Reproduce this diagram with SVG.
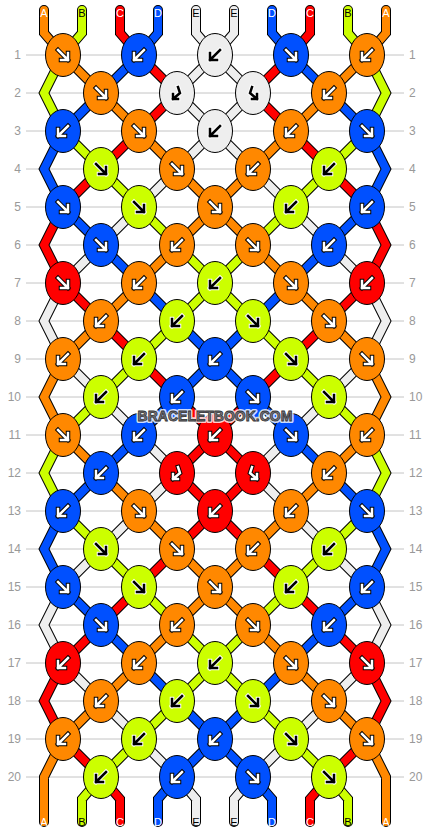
<svg xmlns="http://www.w3.org/2000/svg" width="430" height="832" viewBox="0 0 430 832">
<style>
.grid{stroke:#c4c4c4;stroke-width:1}
.num{font-family:"Liberation Sans",Arial,sans-serif;font-size:12px;fill:#999}
.kA,.kB,.kC,.kD,.kE{stroke:#000;stroke-width:1}
.kA{fill:#ff8800}.kB{fill:#ccff00}.kC{fill:#ff0000}.kD{fill:#0050ff}.kE{fill:#eeeeee}
.lbl{font-family:"Liberation Sans",Arial,sans-serif;font-size:11px;text-anchor:middle}
.wt{fill:#fff}.bt{fill:#000}
</style>
<defs>
<path id="sA" d="M44,10L44,33L63,55M386,10L386,33L367,55M63,55L101,93M367,55L329,93M101,93L139,131M329,93L291,131M139,131L177,169M291,131L253,169M177,169L215,207M253,169L215,207M215,207L177,245M215,207L253,245M177,245L139,283M253,245L291,283M139,283L101,321M291,283L329,321M101,321L63,359M329,321L367,359M63,359L44,397L63,435M367,359L386,397L367,435M63,435L101,473M367,435L329,473M101,473L139,511M329,473L291,511M139,511L177,549M291,511L253,549M177,549L215,587M253,549L215,587M215,587L177,625M215,587L253,625M177,625L139,663M253,625L291,663M139,663L101,701M291,663L329,701M101,701L63,739M329,701L367,739M63,739L44,777L44,822M367,739L386,777L386,822"/>
<path id="sB" d="M82,10L82,33L63,55M348,10L348,33L367,55M63,55L44,93L63,131M367,55L386,93L367,131M63,131L101,169M367,131L329,169M101,169L139,207M329,169L291,207M139,207L177,245M291,207L253,245M177,245L215,283M253,245L215,283M215,283L177,321M215,283L253,321M177,321L139,359M253,321L291,359M139,359L101,397M291,359L329,397M101,397L63,435M329,397L367,435M63,435L44,473L63,511M367,435L386,473L367,511M63,511L101,549M367,511L329,549M101,549L139,587M329,549L291,587M139,587L177,625M291,587L253,625M177,625L215,663M253,625L215,663M215,663L177,701M215,663L253,701M177,701L139,739M253,701L291,739M139,739L101,777M291,739L329,777M101,777L82,799L82,822M329,777L348,799L348,822"/>
<path id="sC" d="M120,10L120,33L139,55M310,10L310,33L291,55M139,55L177,93M291,55L253,93M177,93L139,131M253,93L291,131M139,131L101,169M291,131L329,169M101,169L63,207M329,169L367,207M63,207L44,245L63,283M367,207L386,245L367,283M63,283L101,321M367,283L329,321M101,321L139,359M329,321L291,359M139,359L177,397M291,359L253,397M177,397L215,435M253,397L215,435M215,435L177,473M215,435L253,473M177,473L215,511M253,473L215,511M215,511L177,549M215,511L253,549M177,549L139,587M253,549L291,587M139,587L101,625M291,587L329,625M101,625L63,663M329,625L367,663M63,663L44,701L63,739M367,663L386,701L367,739M63,739L101,777M367,739L329,777M101,777L120,799L120,822M329,777L310,799L310,822"/>
<path id="sD" d="M158,10L158,33L139,55M272,10L272,33L291,55M139,55L101,93M291,55L329,93M101,93L63,131M329,93L367,131M63,131L44,169L63,207M367,131L386,169L367,207M63,207L101,245M367,207L329,245M101,245L139,283M329,245L291,283M139,283L177,321M291,283L253,321M177,321L215,359M253,321L215,359M215,359L177,397M215,359L253,397M177,397L139,435M253,397L291,435M139,435L101,473M291,435L329,473M101,473L63,511M329,473L367,511M63,511L44,549L63,587M367,511L386,549L367,587M63,587L101,625M367,587L329,625M101,625L139,663M329,625L291,663M139,663L177,701M291,663L253,701M177,701L215,739M253,701L215,739M215,739L177,777M215,739L253,777M177,777L158,799L158,822M253,777L272,799L272,822"/>
<path id="sE" d="M196,10L196,33L215,55M234,10L234,33L215,55M215,55L177,93M215,55L253,93M177,93L215,131M253,93L215,131M215,131L177,169M215,131L253,169M177,169L139,207M253,169L291,207M139,207L101,245M291,207L329,245M101,245L63,283M329,245L367,283M63,283L44,321L63,359M367,283L386,321L367,359M63,359L101,397M367,359L329,397M101,397L139,435M329,397L291,435M139,435L177,473M291,435L253,473M177,473L139,511M253,473L291,511M139,511L101,549M291,511L329,549M101,549L63,587M329,549L367,587M63,587L44,625L63,663M367,587L386,625L367,663M63,663L101,701M367,663L329,701M101,701L139,739M329,701L291,739M139,739L177,777M291,739L253,777M177,777L196,799L196,822M253,777L234,799L234,822"/>
<path id="aR" d="M-5,-5L5,5M5,-2L5,5L-2,5"/>
<path id="aL" d="M5,-5L-5,5M-5,-2L-5,5L2,5"/>
<path id="hL" d="M1,-6L3,0L-4,6M-4,1L-4,6L1,6"/>
<path id="hR" d="M-1,-6L-3,0L4,6M4,1L4,6L-1,6"/>
<g id="wR" fill="none" stroke-linecap="square"><use href="#aR" stroke="#000" stroke-width="4.5"/><use href="#aR" stroke="#fff" stroke-width="2.5"/></g>
<g id="wL" fill="none" stroke-linecap="square"><use href="#aL" stroke="#000" stroke-width="4.5"/><use href="#aL" stroke="#fff" stroke-width="2.5"/></g>
<g id="bR" fill="none" stroke-linecap="square"><use href="#aR" stroke="#fff" stroke-width="4.5"/><use href="#aR" stroke="#000" stroke-width="2.5"/></g>
<g id="bL" fill="none" stroke-linecap="square"><use href="#aL" stroke="#fff" stroke-width="4.5"/><use href="#aL" stroke="#000" stroke-width="2.5"/></g>
<g id="bhL" fill="none" stroke-linecap="square"><use href="#hL" stroke="#fff" stroke-width="4.5"/><use href="#hL" stroke="#000" stroke-width="2.5"/></g>
<g id="bhR" fill="none" stroke-linecap="square"><use href="#hR" stroke="#fff" stroke-width="4.5"/><use href="#hR" stroke="#000" stroke-width="2.5"/></g>
<g id="whL" fill="none" stroke-linecap="square"><use href="#hL" stroke="#000" stroke-width="4.5"/><use href="#hL" stroke="#fff" stroke-width="2.5"/></g>
<g id="whR" fill="none" stroke-linecap="square"><use href="#hR" stroke="#000" stroke-width="4.5"/><use href="#hR" stroke="#fff" stroke-width="2.5"/></g>
<ellipse id="kn" rx="17.5" ry="21.5"/>
</defs>
<rect width="430" height="832" fill="#fff"/>
<g id="grid" class="grid">
<line x1="26" y1="55" x2="404" y2="55"/><line x1="26" y1="93" x2="404" y2="93"/><line x1="26" y1="131" x2="404" y2="131"/><line x1="26" y1="169" x2="404" y2="169"/><line x1="26" y1="207" x2="404" y2="207"/><line x1="26" y1="245" x2="404" y2="245"/><line x1="26" y1="283" x2="404" y2="283"/><line x1="26" y1="321" x2="404" y2="321"/><line x1="26" y1="359" x2="404" y2="359"/><line x1="26" y1="397" x2="404" y2="397"/><line x1="26" y1="435" x2="404" y2="435"/><line x1="26" y1="473" x2="404" y2="473"/><line x1="26" y1="511" x2="404" y2="511"/><line x1="26" y1="549" x2="404" y2="549"/><line x1="26" y1="587" x2="404" y2="587"/><line x1="26" y1="625" x2="404" y2="625"/><line x1="26" y1="663" x2="404" y2="663"/><line x1="26" y1="701" x2="404" y2="701"/><line x1="26" y1="739" x2="404" y2="739"/><line x1="26" y1="777" x2="404" y2="777"/>
</g>
<g id="rownums" class="num">
<g text-anchor="end">
<text x="21" y="59">1</text><text x="21" y="97">2</text><text x="21" y="135">3</text><text x="21" y="173">4</text><text x="21" y="211">5</text><text x="21" y="249">6</text><text x="21" y="287">7</text><text x="21" y="325">8</text><text x="21" y="363">9</text><text x="21" y="401">10</text><text x="21" y="439">11</text><text x="21" y="477">12</text><text x="21" y="515">13</text><text x="21" y="553">14</text><text x="21" y="591">15</text><text x="21" y="629">16</text><text x="21" y="667">17</text><text x="21" y="705">18</text><text x="21" y="743">19</text><text x="21" y="781">20</text>
</g>
<g text-anchor="start">
<text x="409" y="59">1</text><text x="409" y="97">2</text><text x="409" y="135">3</text><text x="409" y="173">4</text><text x="409" y="211">5</text><text x="409" y="249">6</text><text x="409" y="287">7</text><text x="409" y="325">8</text><text x="409" y="363">9</text><text x="409" y="401">10</text><text x="409" y="439">11</text><text x="409" y="477">12</text><text x="409" y="515">13</text><text x="409" y="553">14</text><text x="409" y="591">15</text><text x="409" y="629">16</text><text x="409" y="667">17</text><text x="409" y="705">18</text><text x="409" y="743">19</text><text x="409" y="781">20</text>
</g>
</g>
<g id="connectors" fill="none" stroke-linejoin="miter" stroke-linecap="round">
<g stroke="#000" stroke-width="10"><use href="#sA"/><use href="#sB"/><use href="#sC"/><use href="#sD"/><use href="#sE"/></g>
<g stroke-width="8"><use href="#sA" stroke="#ff8800"/><use href="#sB" stroke="#ccff00"/><use href="#sC" stroke="#ff0000"/><use href="#sD" stroke="#0050ff"/><use href="#sE" stroke="#eeeeee"/></g>
</g>
<g id="knots">
<g id="k1-1" transform="translate(63,55)"><use href="#kn" class="kA"/><use href="#wR"/></g>
<g id="k1-2" transform="translate(139,55)"><use href="#kn" class="kD"/><use href="#wL"/></g>
<g id="k1-3" transform="translate(215,55)"><use href="#kn" class="kE"/><use href="#bL"/></g>
<g id="k1-4" transform="translate(291,55)"><use href="#kn" class="kD"/><use href="#wR"/></g>
<g id="k1-5" transform="translate(367,55)"><use href="#kn" class="kA"/><use href="#wL"/></g>
<g id="k2-1" transform="translate(101,93)"><use href="#kn" class="kA"/><use href="#wR"/></g>
<g id="k2-2" transform="translate(177,93)"><use href="#kn" class="kE"/><use href="#bhL"/></g>
<g id="k2-3" transform="translate(253,93)"><use href="#kn" class="kE"/><use href="#bhR"/></g>
<g id="k2-4" transform="translate(329,93)"><use href="#kn" class="kA"/><use href="#wL"/></g>
<g id="k3-1" transform="translate(63,131)"><use href="#kn" class="kD"/><use href="#wL"/></g>
<g id="k3-2" transform="translate(139,131)"><use href="#kn" class="kA"/><use href="#wR"/></g>
<g id="k3-3" transform="translate(215,131)"><use href="#kn" class="kE"/><use href="#bL"/></g>
<g id="k3-4" transform="translate(291,131)"><use href="#kn" class="kA"/><use href="#wL"/></g>
<g id="k3-5" transform="translate(367,131)"><use href="#kn" class="kD"/><use href="#wR"/></g>
<g id="k4-1" transform="translate(101,169)"><use href="#kn" class="kB"/><use href="#bR"/></g>
<g id="k4-2" transform="translate(177,169)"><use href="#kn" class="kA"/><use href="#wR"/></g>
<g id="k4-3" transform="translate(253,169)"><use href="#kn" class="kA"/><use href="#wL"/></g>
<g id="k4-4" transform="translate(329,169)"><use href="#kn" class="kB"/><use href="#bL"/></g>
<g id="k5-1" transform="translate(63,207)"><use href="#kn" class="kD"/><use href="#wR"/></g>
<g id="k5-2" transform="translate(139,207)"><use href="#kn" class="kB"/><use href="#bR"/></g>
<g id="k5-3" transform="translate(215,207)"><use href="#kn" class="kA"/><use href="#wR"/></g>
<g id="k5-4" transform="translate(291,207)"><use href="#kn" class="kB"/><use href="#bL"/></g>
<g id="k5-5" transform="translate(367,207)"><use href="#kn" class="kD"/><use href="#wL"/></g>
<g id="k6-1" transform="translate(101,245)"><use href="#kn" class="kD"/><use href="#wR"/></g>
<g id="k6-2" transform="translate(177,245)"><use href="#kn" class="kA"/><use href="#wL"/></g>
<g id="k6-3" transform="translate(253,245)"><use href="#kn" class="kA"/><use href="#wR"/></g>
<g id="k6-4" transform="translate(329,245)"><use href="#kn" class="kD"/><use href="#wL"/></g>
<g id="k7-1" transform="translate(63,283)"><use href="#kn" class="kC"/><use href="#wR"/></g>
<g id="k7-2" transform="translate(139,283)"><use href="#kn" class="kA"/><use href="#wL"/></g>
<g id="k7-3" transform="translate(215,283)"><use href="#kn" class="kB"/><use href="#bL"/></g>
<g id="k7-4" transform="translate(291,283)"><use href="#kn" class="kA"/><use href="#wR"/></g>
<g id="k7-5" transform="translate(367,283)"><use href="#kn" class="kC"/><use href="#wL"/></g>
<g id="k8-1" transform="translate(101,321)"><use href="#kn" class="kA"/><use href="#wL"/></g>
<g id="k8-2" transform="translate(177,321)"><use href="#kn" class="kB"/><use href="#bL"/></g>
<g id="k8-3" transform="translate(253,321)"><use href="#kn" class="kB"/><use href="#bR"/></g>
<g id="k8-4" transform="translate(329,321)"><use href="#kn" class="kA"/><use href="#wR"/></g>
<g id="k9-1" transform="translate(63,359)"><use href="#kn" class="kA"/><use href="#wL"/></g>
<g id="k9-2" transform="translate(139,359)"><use href="#kn" class="kB"/><use href="#bL"/></g>
<g id="k9-3" transform="translate(215,359)"><use href="#kn" class="kD"/><use href="#wL"/></g>
<g id="k9-4" transform="translate(291,359)"><use href="#kn" class="kB"/><use href="#bR"/></g>
<g id="k9-5" transform="translate(367,359)"><use href="#kn" class="kA"/><use href="#wR"/></g>
<g id="k10-1" transform="translate(101,397)"><use href="#kn" class="kB"/><use href="#bL"/></g>
<g id="k10-2" transform="translate(177,397)"><use href="#kn" class="kD"/><use href="#wL"/></g>
<g id="k10-3" transform="translate(253,397)"><use href="#kn" class="kD"/><use href="#wR"/></g>
<g id="k10-4" transform="translate(329,397)"><use href="#kn" class="kB"/><use href="#bR"/></g>
<g id="k11-1" transform="translate(63,435)"><use href="#kn" class="kA"/><use href="#wR"/></g>
<g id="k11-2" transform="translate(139,435)"><use href="#kn" class="kD"/><use href="#wL"/></g>
<g id="k11-3" transform="translate(215,435)"><use href="#kn" class="kC"/><use href="#wL"/></g>
<g id="k11-4" transform="translate(291,435)"><use href="#kn" class="kD"/><use href="#wR"/></g>
<g id="k11-5" transform="translate(367,435)"><use href="#kn" class="kA"/><use href="#wL"/></g>
<g id="k12-1" transform="translate(101,473)"><use href="#kn" class="kD"/><use href="#wL"/></g>
<g id="k12-2" transform="translate(177,473)"><use href="#kn" class="kC"/><use href="#whL"/></g>
<g id="k12-3" transform="translate(253,473)"><use href="#kn" class="kC"/><use href="#whR"/></g>
<g id="k12-4" transform="translate(329,473)"><use href="#kn" class="kA"/><use href="#wL"/></g>
<g id="k13-1" transform="translate(63,511)"><use href="#kn" class="kD"/><use href="#wL"/></g>
<g id="k13-2" transform="translate(139,511)"><use href="#kn" class="kA"/><use href="#wR"/></g>
<g id="k13-3" transform="translate(215,511)"><use href="#kn" class="kC"/><use href="#wL"/></g>
<g id="k13-4" transform="translate(291,511)"><use href="#kn" class="kA"/><use href="#wL"/></g>
<g id="k13-5" transform="translate(367,511)"><use href="#kn" class="kD"/><use href="#wR"/></g>
<g id="k14-1" transform="translate(101,549)"><use href="#kn" class="kB"/><use href="#bR"/></g>
<g id="k14-2" transform="translate(177,549)"><use href="#kn" class="kA"/><use href="#wR"/></g>
<g id="k14-3" transform="translate(253,549)"><use href="#kn" class="kA"/><use href="#wL"/></g>
<g id="k14-4" transform="translate(329,549)"><use href="#kn" class="kB"/><use href="#bL"/></g>
<g id="k15-1" transform="translate(63,587)"><use href="#kn" class="kD"/><use href="#wR"/></g>
<g id="k15-2" transform="translate(139,587)"><use href="#kn" class="kB"/><use href="#bR"/></g>
<g id="k15-3" transform="translate(215,587)"><use href="#kn" class="kA"/><use href="#wR"/></g>
<g id="k15-4" transform="translate(291,587)"><use href="#kn" class="kB"/><use href="#bL"/></g>
<g id="k15-5" transform="translate(367,587)"><use href="#kn" class="kD"/><use href="#wL"/></g>
<g id="k16-1" transform="translate(101,625)"><use href="#kn" class="kD"/><use href="#wR"/></g>
<g id="k16-2" transform="translate(177,625)"><use href="#kn" class="kA"/><use href="#wL"/></g>
<g id="k16-3" transform="translate(253,625)"><use href="#kn" class="kA"/><use href="#wR"/></g>
<g id="k16-4" transform="translate(329,625)"><use href="#kn" class="kD"/><use href="#wL"/></g>
<g id="k17-1" transform="translate(63,663)"><use href="#kn" class="kC"/><use href="#wL"/></g>
<g id="k17-2" transform="translate(139,663)"><use href="#kn" class="kA"/><use href="#wL"/></g>
<g id="k17-3" transform="translate(215,663)"><use href="#kn" class="kB"/><use href="#bL"/></g>
<g id="k17-4" transform="translate(291,663)"><use href="#kn" class="kA"/><use href="#wR"/></g>
<g id="k17-5" transform="translate(367,663)"><use href="#kn" class="kC"/><use href="#wR"/></g>
<g id="k18-1" transform="translate(101,701)"><use href="#kn" class="kA"/><use href="#wL"/></g>
<g id="k18-2" transform="translate(177,701)"><use href="#kn" class="kB"/><use href="#bL"/></g>
<g id="k18-3" transform="translate(253,701)"><use href="#kn" class="kB"/><use href="#bR"/></g>
<g id="k18-4" transform="translate(329,701)"><use href="#kn" class="kA"/><use href="#wR"/></g>
<g id="k19-1" transform="translate(63,739)"><use href="#kn" class="kA"/><use href="#wL"/></g>
<g id="k19-2" transform="translate(139,739)"><use href="#kn" class="kB"/><use href="#bL"/></g>
<g id="k19-3" transform="translate(215,739)"><use href="#kn" class="kD"/><use href="#wL"/></g>
<g id="k19-4" transform="translate(291,739)"><use href="#kn" class="kB"/><use href="#bR"/></g>
<g id="k19-5" transform="translate(367,739)"><use href="#kn" class="kA"/><use href="#wR"/></g>
<g id="k20-1" transform="translate(101,777)"><use href="#kn" class="kB"/><use href="#bL"/></g>
<g id="k20-2" transform="translate(177,777)"><use href="#kn" class="kD"/><use href="#wL"/></g>
<g id="k20-3" transform="translate(253,777)"><use href="#kn" class="kD"/><use href="#wR"/></g>
<g id="k20-4" transform="translate(329,777)"><use href="#kn" class="kB"/><use href="#bR"/></g>
</g>
<g id="strandlabels" class="lbl">
<text x="44" y="17" class="wt">A</text><text x="82" y="17" class="bt">B</text><text x="120" y="17" class="wt">C</text><text x="158" y="17" class="wt">D</text><text x="196" y="17" class="bt">E</text><text x="234" y="17" class="bt">E</text><text x="272" y="17" class="wt">D</text><text x="310" y="17" class="wt">C</text><text x="348" y="17" class="bt">B</text><text x="386" y="17" class="wt">A</text>
<text x="44" y="826" class="wt">A</text><text x="82" y="826" class="bt">B</text><text x="120" y="826" class="wt">C</text><text x="158" y="826" class="wt">D</text><text x="196" y="826" class="bt">E</text><text x="234" y="826" class="bt">E</text><text x="272" y="826" class="wt">D</text><text x="310" y="826" class="wt">C</text><text x="348" y="826" class="bt">B</text><text x="386" y="826" class="wt">A</text>
</g>
<g id="watermark" font-family="'Liberation Sans',Arial,sans-serif" font-size="14" font-weight="bold" text-anchor="middle">
<text x="215" y="421" fill="none" stroke="#fff" stroke-width="4" stroke-linejoin="round" opacity="0.8">BRACELETBOOK.COM</text>
<text x="215" y="421" fill="#7a7a84" stroke="#333" stroke-width="0.8">BRACELETBOOK.COM</text>
</g>
</svg>
